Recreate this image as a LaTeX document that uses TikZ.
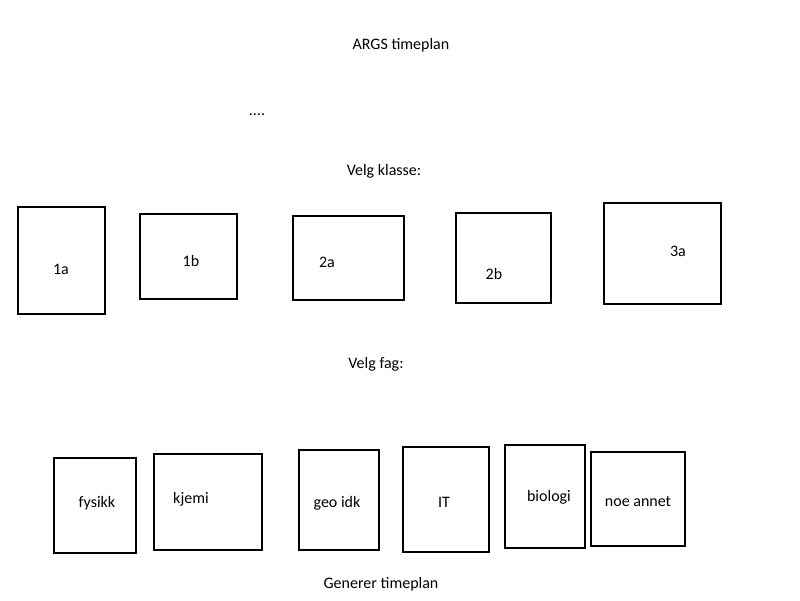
\documentclass[tikz,border=0pt]{standalone}
\usepackage{fontspec}
\setmainfont{Carlito}
\begin{document}
\begin{tikzpicture}[x=1pt,y=-1pt,
  box/.style={draw=black, line width=2.2pt, inner sep=0pt, minimum width=#1},
  lbl/.style={font=\fontsize{16}{19}\selectfont, inner sep=0pt, anchor=center, yshift=-1.5pt}]
\useasboundingbox (0,0) rectangle (800,600);
% headings
\node[lbl] (title) at (401,44) {ARGS timeplan};
\node[lbl] (dots) at (257,113) {....};
\node[lbl] (klasse) at (384,170) {Velg klasse:};
\node[lbl] (fag) at (376,363) {Velg fag:};
\node[lbl] (gen) at (381,583) {Generer timeplan};
% class boxes
\node[box=87pt, minimum height=107pt] (b1a) at (61.5,260.5) {};
\node[box=97pt, minimum height=85pt] (b1b) at (188.5,256.5) {};
\node[box=111pt, minimum height=84pt] (b2a) at (348.5,258) {};
\node[box=95pt, minimum height=90pt] (b2b) at (503.5,258) {};
\node[box=117pt, minimum height=101pt] (b3a) at (662.5,253.5) {};
\node[lbl] (t1a) at (61,268) {1a};
\node[lbl] (t1b) at (191,259) {1b};
\node[lbl] (t2a) at (327,261) {2a};
\node[lbl] (t2b) at (494,272) {2b};
\node[lbl] (t3a) at (678,250) {3a};
% subject boxes
\node[box=82pt, minimum height=95pt] (bfy) at (95,505.5) {};
\node[box=108pt, minimum height=96pt] (bkj) at (208,502) {};
\node[box=80pt, minimum height=100pt] (bgeo) at (339,500) {};
\node[box=86pt, minimum height=105pt] (bit) at (446,499.5) {};
\node[box=80pt, minimum height=103pt] (bbio) at (545,496.5) {};
\node[box=94pt, minimum height=94pt] (bnoe) at (638,499) {};
\node[lbl] (tfy) at (97,502) {fysikk};
\node[lbl] (tkj) at (191,498) {kjemi};
\node[lbl] (tgeo) at (337,502) {geo idk};
\node[lbl] (tit) at (444,501) {IT};
\node[lbl] (tbio) at (549,496) {biologi};
\node[lbl] (tnoe) at (638,500) {noe annet};
\end{tikzpicture}
\end{document}
